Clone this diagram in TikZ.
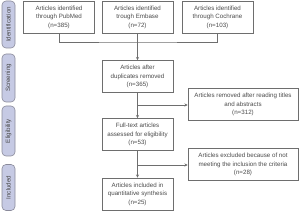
\documentclass[tikz,border=0pt]{standalone}
\usepackage{fontspec}
\setmainfont{Liberation Sans}
\usetikzlibrary{arrows.meta}
\definecolor{txt}{HTML}{4A4A4A}
\definecolor{ln}{HTML}{6E6E6E}
\definecolor{lab}{HTML}{C6CAE4}
\definecolor{labd}{HTML}{8A8A9A}
\begin{document}
\begin{tikzpicture}[x=1pt,y=-1pt,
  every node/.style={font=\fontsize{6.2}{8.6}\selectfont, text=txt},
  box/.style={draw=ln, line width=0.6pt, minimum width=71pt, minimum height=32pt, align=center, inner sep=0pt},
  wbox/.style={box, minimum width=110pt},
  stage/.style={draw=labd, fill=lab, line width=0.6pt, rounded corners=4pt, minimum width=13pt, rotate=90, inner sep=0pt},
  conn/.style={draw=ln, line width=0.6pt},
  arr/.style={conn, -{Stealth[length=3.2pt,width=3pt]}}]
\useasboundingbox (0,0) rectangle (300,211);
% stage labels
\node[stage, minimum width=47pt, minimum height=13pt] (s1) at (8.5,24.5) {Identification};
\node[stage, minimum width=48pt, minimum height=13pt] (s2) at (8.5,78) {Screening};
\node[stage, minimum width=50pt, minimum height=13pt] (s3) at (8.5,131) {Eligibility};
\node[stage, minimum width=46pt, minimum height=13pt] (s4) at (8.5,187.5) {Included};
% boxes
\node[box] (pub) at (59,17) {Articles identified\\through PubMed\\(n=385)};
\node[box] (emb) at (137.5,17) {Articles identified\\trough Embase\\(n=72)};
\node[box] (coc) at (217.5,17) {Articles identified\\through Cochrane\\(n=103)};
\node[box] (dup) at (137.5,76.5) {Articles after\\duplicates removed\\(n=365)};
\node[wbox] (rem) at (243,104.5) {Articles removed after reading titles\\and abstracts\\(n=312)};
\node[box] (ful) at (137.5,134.5) {Full-text articles\\assessed for eligibility\\(n=53)};
\node[wbox] (exc) at (243,164.5) {Articles excluded because of not\\meeting the inclusion the criteria\\(n=28)};
\node[box] (inc) at (137.5,194) {Articles included in\\quantitative synthesis\\(n=25)};
% connectors
\coordinate (j1) at (137.5,42);
\coordinate (j2) at (137.5,105);
\coordinate (j3) at (137.5,165);
\draw[conn] (pub.south) |- (j1) -| (coc.south);
\draw[conn] (emb.south) -- (j1);
\draw[arr] (j1) -- (dup.north);
\draw[conn] (dup.south) -- (j2);
\draw[arr] (j2) -- (ful.north);
\draw[arr] (j2) -- (j2 -| rem.west);
\draw[conn] (ful.south) -- (j3);
\draw[arr] (j3) -- (inc.north);
\draw[arr] (j3) -- (j3 -| exc.west);
\end{tikzpicture}
\end{document}
